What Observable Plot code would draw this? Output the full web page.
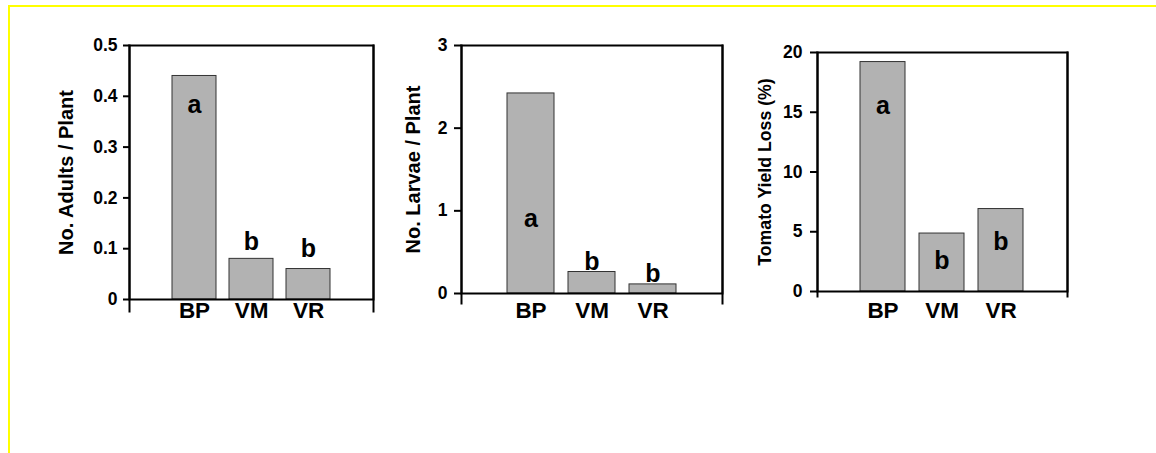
<!DOCTYPE html>
<html><head><meta charset="utf-8">
<script src="https://cdn.jsdelivr.net/npm/d3@7"></script>
<script src="https://cdn.jsdelivr.net/npm/@observablehq/plot@0.6"></script>
<style>
html,body{margin:0;padding:0;background:#fff;}
#wrap{position:relative;width:1156px;height:453px;overflow:hidden;}
#border{position:absolute;left:8px;top:5px;right:-4px;bottom:-4px;border-top:2px solid #ffff00;border-left:2px solid #ffff00;}
.panel{position:absolute;top:0;}
.panel svg{overflow:visible;}
</style></head><body>
<div id="wrap"><div id="border"></div></div>
<script>
// ---- data ----
const categories = ["BP", "VM", "VR"];

const adults = [0.44, 0.08, 0.06];
const adultsLetters = ["a", "b", "b"];
const adultsLetterY = [0.382, 0.114, 0.100];
const adultsTicks = [0, 0.1, 0.2, 0.3, 0.4, 0.5];

const larvae = [2.42, 0.26, 0.11];
const larvaeLetters = ["a", "b", "b"];
const larvaeLetterY = [0.907, 0.387, 0.23];
const larvaeTicks = [0, 1, 2, 3];

const yieldLoss = [19.2, 4.85, 6.9];
const yieldLetters = ["a", "b", "b"];
const yieldLetterY = [15.56, 2.59, 4.18];
const yieldTicks = [0, 5, 10, 15, 20];

const labels = ["No. Adults / Plant", "No. Larvae / Plant", "Tomato Yield Loss (%)"];

// ---- drawing ----
const FONT = "'Liberation Sans', Arial, Helvetica, sans-serif";

function panel(cfg) {
  const rows = categories.map((c, i) => ({cat: c, value: cfg.values[i], letter: cfg.letters[i], ly: cfg.letterY[i]}));
  const ticks = cfg.ticks;
  return Plot.plot({
    width: cfg.width,
    height: cfg.height,
    marginLeft: cfg.mL,
    marginRight: cfg.mR,
    marginTop: cfg.mT,
    marginBottom: cfg.mB,
    style: {fontFamily: FONT, fontWeight: "bold", background: "transparent", color: "#000", overflow: "visible"},
    x: {domain: categories, paddingInner: 0.23, paddingOuter: 0.73, label: null},
    y: {domain: [ticks[0], ticks[ticks.length - 1]], label: null},
    marks: [
      Plot.barY(rows, {x: "cat", y: "value", fill: "#b2b2b2", stroke: "#333", strokeWidth: 1}),
      Plot.frame({stroke: "#000", strokeWidth: 2}),
      Plot.frame({anchor: "left", stroke: "#000", strokeWidth: 2, insetBottom: -cfg.extend}),
      Plot.frame({anchor: "right", stroke: "#000", strokeWidth: 2, insetBottom: -cfg.extend}),
      Plot.axisY({ticks, tickSize: cfg.tickLen, tickPadding: cfg.tickPad, strokeWidth: 2,
        fontSize: 17.5, fontWeight: "bold", label: null, tickFormat: d => `${d}`}),
      Plot.axisX({tickSize: 0, tickPadding: cfg.catPad, fontSize: 22.5, fontWeight: "bold", label: null}),
      Plot.text([cfg.label], {frameAnchor: "left", dx: cfg.labelDx, rotate: -90, fontSize: cfg.labelSize,
        fontWeight: "bold", textAnchor: "middle", lineAnchor: "middle", fill: "#000"}),
      Plot.text(rows, {x: "cat", y: "ly", text: "letter", fontSize: 25, fontWeight: "bold", lineAnchor: "middle", fill: "#000"})
    ]
  });
}

const configs = [
  {left: 0, width: 400, height: 340, mL: 129, mR: 27, mT: 45, mB: 41, tickLen: 6, tickPad: 6, catPad: 3, extend: 12,
   labelDx: -63, labelSize: 20, values: adults, letters: adultsLetters, letterY: adultsLetterY, ticks: adultsTicks, label: labels[0]},
  {left: 380, width: 380, height: 340, mL: 81, mR: 38, mT: 45, mB: 47, tickLen: 7, tickPad: 7, catPad: 9, extend: 10,
   labelDx: -48, labelSize: 20, values: larvae, letters: larvaeLetters, letterY: larvaeLetterY, ticks: larvaeTicks, label: labels[1]},
  {left: 740, width: 416, height: 340, mL: 77, mR: 89, mT: 52, mB: 49, tickLen: 7, tickPad: 8, catPad: 11, extend: 5,
   labelDx: -52, labelSize: 17.7, values: yieldLoss, letters: yieldLetters, letterY: yieldLetterY, ticks: yieldTicks, label: labels[2]}
];

const wrap = document.getElementById("wrap");
for (const cfg of configs) {
  const div = document.createElement("div");
  div.className = "panel";
  div.style.left = cfg.left + "px";
  div.appendChild(panel(cfg));
  wrap.appendChild(div);
}
</script>
</body></html>
